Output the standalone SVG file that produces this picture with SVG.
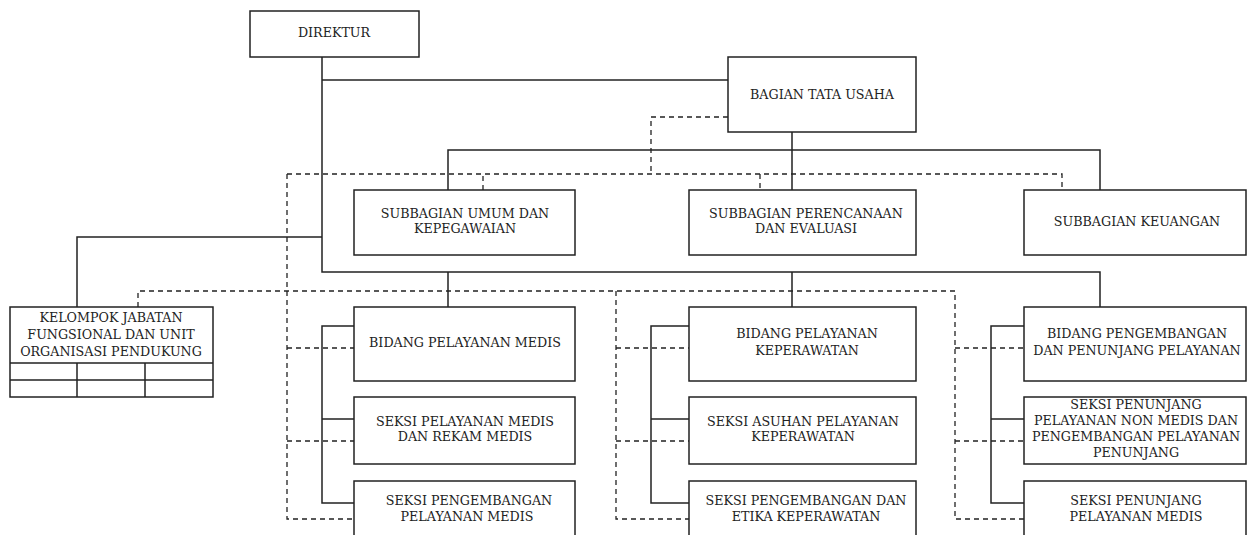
<svg xmlns="http://www.w3.org/2000/svg" width="1247" height="535" viewBox="0 0 1247 535">
<style>
.box{fill:#fff;stroke:#222;stroke-width:1.5}
.ln{fill:none;stroke:#222;stroke-width:1.5}
.ds{fill:none;stroke:#222;stroke-width:1.3;stroke-dasharray:5,4}
text{font-family:"DejaVu Serif","Liberation Serif",serif;font-size:12.7px;fill:#222;text-anchor:middle}
</style>
<rect width="1247" height="535" fill="#fff"/>
<g id="connectors">
<path class="ln" d="M322 57V272H1100V307M448 272V307M792 272V307"/>
<path class="ln" d="M322 80H728"/>
<path class="ln" d="M792 132V190M448 190V150H1100V190"/>
<path class="ln" d="M322 237H77V307"/>
<path class="ln" d="M354 326H322V503H354M322 419H354"/>
<path class="ln" d="M689 326H651V503H689M651 419H689"/>
<path class="ln" d="M1024 326H991V503H1024M991 419H1024"/>
<path class="ds" d="M728 117H651V174"/>
<path class="ds" d="M483 190V174H1062V190M760 174V190"/>
<path class="ds" d="M287 174H483M287 174V519H354M287 348H354M287 441H354"/>
<path class="ds" d="M138 307V291H955V519H1024M955 348H1024M955 441H1024"/>
<path class="ds" d="M616 291V519H689M616 348H689M616 441H689"/>
</g>
<g id="direktur"><rect class="box" x="250" y="11" width="169" height="46"/><text x="334" y="37">DIREKTUR</text></g>
<g id="tata-usaha"><rect class="box" x="728" y="57" width="188" height="75"/><text x="822" y="99">BAGIAN TATA USAHA</text></g>
<g id="subbag-umum"><rect class="box" x="354" y="190" width="221" height="65"/><text x="465" y="218">SUBBAGIAN UMUM DAN</text><text x="465" y="233">KEPEGAWAIAN</text></g>
<g id="subbag-perencanaan"><rect class="box" x="689" y="190" width="227" height="65"/><text x="806" y="218">SUBBAGIAN PERENCANAAN</text><text x="806" y="233">DAN EVALUASI</text></g>
<g id="subbag-keuangan"><rect class="box" x="1024" y="190" width="222" height="65"/><text x="1137" y="226">SUBBAGIAN KEUANGAN</text></g>
<g id="kelompok">
<rect class="box" x="10" y="307" width="203" height="90"/>
<path class="ln" d="M10 363H213M10 380H213M77 363V397M145 363V397"/>
<text x="111" y="322">KELOMPOK JABATAN</text><text x="111" y="339">FUNGSIONAL DAN UNIT</text><text x="111" y="356">ORGANISASI PENDUKUNG</text>
</g>
<g id="bidang-medis"><rect class="box" x="354" y="307" width="221" height="74"/><text x="465" y="347">BIDANG PELAYANAN MEDIS</text></g>
<g id="seksi-medis-rekam"><rect class="box" x="354" y="397" width="221" height="67"/><text x="465" y="426">SEKSI PELAYANAN MEDIS</text><text x="465" y="441">DAN REKAM MEDIS</text></g>
<g id="seksi-pengembangan-medis"><rect class="box" x="354" y="481" width="221" height="70"/><text x="469" y="505">SEKSI PENGEMBANGAN</text><text x="467" y="521">PELAYANAN MEDIS</text></g>
<g id="bidang-keperawatan"><rect class="box" x="689" y="307" width="227" height="74"/><text x="807" y="338">BIDANG PELAYANAN</text><text x="807" y="355">KEPERAWATAN</text></g>
<g id="seksi-asuhan"><rect class="box" x="689" y="397" width="227" height="67"/><text x="803" y="426">SEKSI ASUHAN PELAYANAN</text><text x="803" y="441">KEPERAWATAN</text></g>
<g id="seksi-etika"><rect class="box" x="689" y="481" width="227" height="70"/><text x="806" y="505">SEKSI PENGEMBANGAN DAN</text><text x="806" y="521">ETIKA KEPERAWATAN</text></g>
<g id="bidang-penunjang"><rect class="box" x="1024" y="307" width="222" height="74"/><text x="1137" y="338">BIDANG PENGEMBANGAN</text><text x="1137" y="355">DAN PENUNJANG PELAYANAN</text></g>
<g id="seksi-nonmedis"><rect class="box" x="1024" y="397" width="222" height="67"/><text x="1136" y="409">SEKSI PENUNJANG</text><text x="1136" y="425">PELAYANAN NON MEDIS DAN</text><text x="1136" y="441">PENGEMBANGAN PELAYANAN</text><text x="1136" y="457">PENUNJANG</text></g>
<g id="seksi-penunjang-medis"><rect class="box" x="1024" y="481" width="222" height="70"/><text x="1136" y="505">SEKSI PENUNJANG</text><text x="1136" y="521">PELAYANAN MEDIS</text></g>
</svg>
